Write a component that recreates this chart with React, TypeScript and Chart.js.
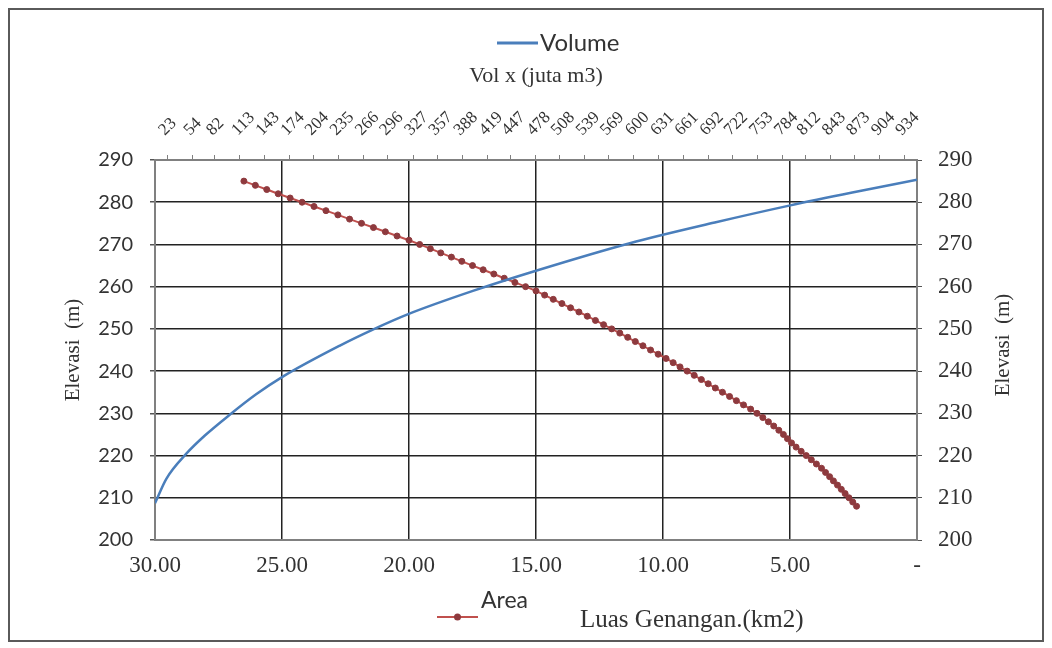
import React, { useEffect, useRef } from 'react';
import { Chart, registerables } from 'chart.js';

Chart.register(...registerables);

// ---- data ----
const elevations = [
  285, 284, 283, 282, 281, 280, 279, 278, 277, 276, 275, 274, 273, 272, 271, 270,
  269, 268, 267, 266, 265, 264, 263, 262, 261, 260, 259, 258, 257, 256, 255, 254,
  253, 252, 251, 250, 249, 248, 247, 246, 245, 244, 243, 242, 241, 240, 239, 238,
  237, 236, 235, 234, 233, 232, 231, 230, 229, 228, 227, 226, 225, 224, 223, 222,
  221, 220, 219, 218, 217, 216, 215, 214, 213, 212, 211, 210, 209, 208,
];
const areaKm2 = [
  26.5, 26.05, 25.6, 25.15, 24.68, 24.21, 23.74, 23.27, 22.8, 22.34, 21.87, 21.4, 20.93, 20.47, 20.0, 19.58,
  19.16, 18.75, 18.33, 17.92, 17.5, 17.08, 16.66, 16.25, 15.83, 15.41, 15.0, 14.66, 14.32, 13.98, 13.64, 13.31,
  12.98, 12.66, 12.34, 12.02, 11.7, 11.39, 11.09, 10.79, 10.49, 10.19, 9.88, 9.6, 9.33, 9.05, 8.77, 8.49,
  8.22, 7.94, 7.66, 7.38, 7.11, 6.83, 6.55, 6.3, 6.07, 5.85, 5.64, 5.44, 5.26, 5.1, 4.94, 4.76,
  4.56, 4.36, 4.16, 3.96, 3.76, 3.6, 3.44, 3.29, 3.13, 2.98, 2.83, 2.68, 2.53, 2.38,
];
const volumeElev = [
  208.7, 214.5, 220.5, 224.8, 229.6, 234.5, 238.7, 246.0, 249.9, 253.5,
  259.0, 263.9, 270.3, 275.2, 279.2, 282.3, 285.3,
];
const volumeJutaM3 = [
  8, 22, 47, 70, 100, 133, 166, 236, 278, 321,
  401, 481, 595, 700, 792, 870, 950,
];
const volTickLabels = [
  23, 54, 82, 113, 143, 174, 204, 235, 266, 296, 327, 357, 388, 419, 447, 478,
  508, 539, 569, 600, 631, 661, 692, 722, 753, 784, 812, 843, 873, 904, 934,
];
const areaTickValues = [30, 25, 20, 15, 10, 5, 0];
const elevTickValues = [200, 210, 220, 230, 240, 250, 260, 270, 280, 290];

const SERIF = '"Liberation Serif", "Times New Roman", serif';
const SANS = 'Lato, "Open Sans", sans-serif';
const BLUE = '#4a7ebb';
const RED = '#c0504d';
const MARKER = '#8e3a3e';
const TEXT = '#333333';
const GRID = '#222222';

const overlay = {
  id: 'overlay',
  afterDraw(chart: any) {
    const ctx = chart.ctx as CanvasRenderingContext2D;
    const ds = chart.data.datasets;
    ctx.save();
    // Volume legend (top)
    ctx.strokeStyle = BLUE;
    ctx.lineWidth = 3;
    ctx.beginPath();
    ctx.moveTo(487, 33);
    ctx.lineTo(528, 33);
    ctx.stroke();
    ctx.fillStyle = TEXT;
    ctx.font = `24px ${SANS}`;
    ctx.textAlign = 'left';
    ctx.textBaseline = 'middle';
    ctx.fillText(ds[0].label, 530, 33);
    // Area legend (bottom)
    ctx.strokeStyle = RED;
    ctx.lineWidth = 2;
    ctx.beginPath();
    ctx.moveTo(427, 607);
    ctx.lineTo(468, 607);
    ctx.stroke();
    ctx.fillStyle = MARKER;
    ctx.beginPath();
    ctx.arc(447.5, 607, 3.5, 0, Math.PI * 2);
    ctx.fill();
    ctx.fillStyle = TEXT;
    ctx.font = `23px ${SANS}`;
    ctx.fillText(ds[1].label, 471, 591);
    // bottom axis title
    ctx.font = `25px ${SERIF}`;
    ctx.fillText('Luas Genangan.(km2)', 570, 610);
    // right axis title
    ctx.translate(993, 335);
    ctx.rotate(-Math.PI / 2);
    ctx.textAlign = 'center';
    ctx.font = `21px ${SERIF}`;
    ctx.fillText('Elevasi  (m)', 0, 0);
    ctx.restore();
  },
};

export default function App() {
  const ref = useRef<HTMLCanvasElement | null>(null);
  useEffect(() => {
    if (!ref.current) return;
    const edgeTransparent = (lo: number, hi: number, col: string) => (c: any) =>
      c.tick && (c.tick.value === lo || c.tick.value === hi) ? 'rgba(0,0,0,0)' : col;
    const chart = new Chart(ref.current, {
      type: 'line',
      data: {
        datasets: [
          {
            label: 'Volume',
            data: volumeJutaM3.map((v, i) => ({ x: v, y: volumeElev[i] })),
            xAxisID: 'x2',
            yAxisID: 'y',
            borderColor: BLUE,
            backgroundColor: BLUE,
            borderWidth: 2.5,
            pointRadius: 0,
            cubicInterpolationMode: 'monotone',
          },
          {
            label: 'Area',
            data: areaKm2.map((a, i) => ({ x: a, y: elevations[i] })),
            xAxisID: 'x',
            yAxisID: 'y',
            borderColor: RED,
            backgroundColor: MARKER,
            borderWidth: 2,
            pointRadius: 3,
            pointBackgroundColor: MARKER,
            pointBorderColor: MARKER,
            pointBorderWidth: 1,
            tension: 0,
          },
        ],
      },
      options: {
        animation: false,
        responsive: true,
        maintainAspectRatio: false,
        layout: { padding: 0 },
        plugins: { legend: { display: false }, tooltip: { enabled: false } },
        scales: {
          x: {
            type: 'linear',
            position: 'bottom',
            reverse: true,
            min: 0,
            max: 30,
            afterBuildTicks: (s: any) => {
              s.ticks = areaTickValues.map((v) => ({ value: v }));
            },
            afterFit: (s: any) => {
              s.height = 100;
            },
            ticks: {
              autoSkip: false,
              maxRotation: 0,
              padding: 12,
              color: TEXT,
              font: { family: SERIF, size: 23 },
              callback: (v: any) => (Number(v) === 0 ? '-' : Number(v).toFixed(2)),
            },
            grid: { color: edgeTransparent(0, 30, GRID), lineWidth: 1.5, drawTicks: false },
            border: { color: '#808080', width: 2 },
          },
          x2: {
            type: 'linear',
            position: 'top',
            min: 8,
            max: 950,
            afterBuildTicks: (s: any) => {
              s.ticks = volTickLabels.map((v) => ({ value: v }));
            },
            afterFit: (s: any) => {
              s.height = 150;
            },
            ticks: {
              autoSkip: false,
              minRotation: 45,
              maxRotation: 45,
              padding: 15,
              labelOffset: 9,
              color: TEXT,
              font: { family: SERIF, size: 17 },
              callback: (v: any) => String(v),
            },
            grid: { drawOnChartArea: false, color: '#808080', tickLength: 5 },
            border: { color: '#808080', width: 2 },
            title: {
              display: true,
              text: 'Vol x (juta m3)',
              color: TEXT,
              font: { family: SERIF, size: 22 },
              padding: { top: 53, bottom: 0 },
            },
          },
          y: {
            type: 'linear',
            position: 'left',
            min: 200,
            max: 290,
            afterBuildTicks: (s: any) => {
              s.ticks = elevTickValues.map((v) => ({ value: v }));
            },
            afterFit: (s: any) => {
              s.width = 145;
            },
            ticks: {
              padding: 17,
              color: TEXT,
              font: { family: SANS, size: 20 },
            },
            grid: {
              color: edgeTransparent(200, 290, GRID),
              tickColor: '#555',
              lineWidth: 1.5,
              tickLength: 5,
            },
            border: { color: '#808080', width: 2 },
            title: {
              display: true,
              text: 'Elevasi  (m)',
              color: TEXT,
              font: { family: SERIF, size: 21 },
              padding: { top: 51, bottom: 0 },
            },
          },
          y2: {
            type: 'linear',
            position: 'right',
            min: 200,
            max: 290,
            afterBuildTicks: (s: any) => {
              s.ticks = elevTickValues.map((v) => ({ value: v }));
            },
            afterFit: (s: any) => {
              s.width = 125;
            },
            ticks: {
              padding: 16,
              color: TEXT,
              font: { family: SERIF, size: 23 },
            },
            grid: { drawOnChartArea: false, color: '#555', tickLength: 5 },
            border: { color: '#808080', width: 2 },
          },
        },
      } as any,
      plugins: [overlay],
    });
    return () => chart.destroy();
  }, []);

  return (
    <div
      style={{
        width: 1036,
        height: 634,
        boxSizing: 'border-box',
        border: '2px solid #5a5a5a',
        background: '#fff',
      }}
    >
      <canvas ref={ref} style={{ width: '100%', height: '100%', display: 'block' }} />
    </div>
  );
}
